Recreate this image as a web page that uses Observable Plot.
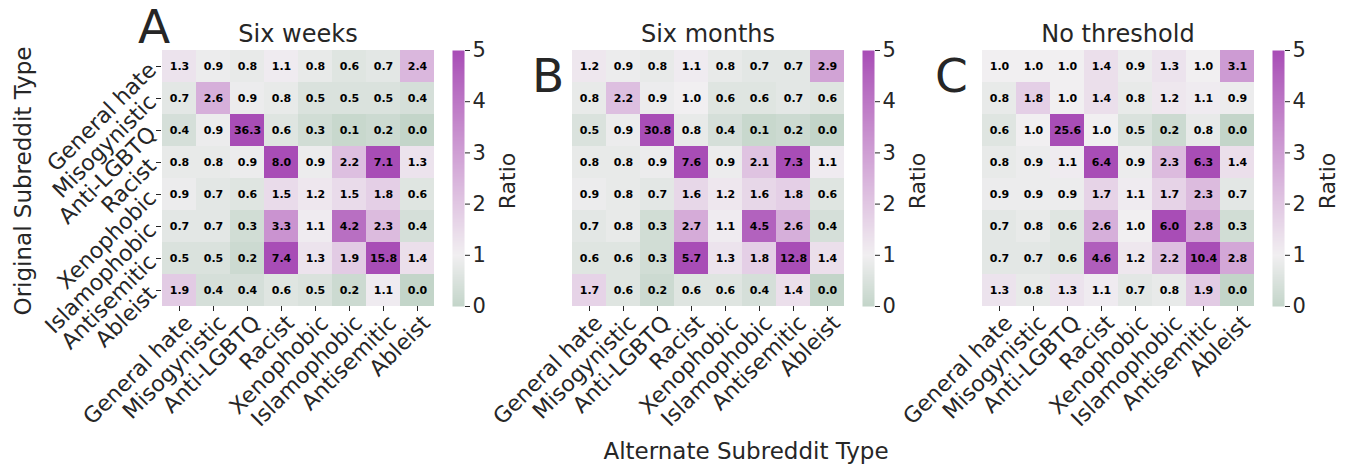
<!DOCTYPE html>
<html>
<head>
<meta charset="utf-8">
<script src="https://cdn.jsdelivr.net/npm/d3@7"></script>
<script src="https://cdn.jsdelivr.net/npm/@observablehq/plot@0.6"></script>
<style>
  html, body { margin: 0; padding: 0; background: white; }
  #chart { position: relative; width: 1350px; height: 469px; overflow: hidden; font-family: "DejaVu Sans", sans-serif; }
  #chart > svg, #chart > div { position: absolute; top: 0; }
</style>
</head>
<body>
<div id="chart"></div>
<script>
const categories = ["General hate","Misogynistic","Anti-LGBTQ","Racist","Xenophobic","Islamophobic","Antisemitic","Ableist"];
const panelTitles = ["Six weeks", "Six months", "No threshold"];
const panelLetters = ["A", "B", "C"];
const sixWeeks = [
  [1.3,0.9,0.8,1.1,0.8,0.6,0.7,2.4],
  [0.7,2.6,0.9,0.8,0.5,0.5,0.5,0.4],
  [0.4,0.9,36.3,0.6,0.3,0.1,0.2,0.0],
  [0.8,0.8,0.9,8.0,0.9,2.2,7.1,1.3],
  [0.9,0.7,0.6,1.5,1.2,1.5,1.8,0.6],
  [0.7,0.7,0.3,3.3,1.1,4.2,2.3,0.4],
  [0.5,0.5,0.2,7.4,1.3,1.9,15.8,1.4],
  [1.9,0.4,0.4,0.6,0.5,0.2,1.1,0.0]];
const sixMonths = [
  [1.2,0.9,0.8,1.1,0.8,0.7,0.7,2.9],
  [0.8,2.2,0.9,1.0,0.6,0.6,0.7,0.6],
  [0.5,0.9,30.8,0.8,0.4,0.1,0.2,0.0],
  [0.8,0.8,0.9,7.6,0.9,2.1,7.3,1.1],
  [0.9,0.8,0.7,1.6,1.2,1.6,1.8,0.6],
  [0.7,0.8,0.3,2.7,1.1,4.5,2.6,0.4],
  [0.6,0.6,0.3,5.7,1.3,1.8,12.8,1.4],
  [1.7,0.6,0.2,0.6,0.6,0.4,1.4,0.0]];
const noThreshold = [
  [1.0,1.0,1.0,1.4,0.9,1.3,1.0,3.1],
  [0.8,1.8,1.0,1.4,0.8,1.2,1.1,0.9],
  [0.6,1.0,25.6,1.0,0.5,0.2,0.8,0.0],
  [0.8,0.9,1.1,6.4,0.9,2.3,6.3,1.4],
  [0.9,0.9,0.9,1.7,1.1,1.7,2.3,0.7],
  [0.7,0.8,0.6,2.6,1.0,6.0,2.8,0.3],
  [0.7,0.7,0.6,4.6,1.2,2.2,10.4,2.8],
  [1.3,0.8,1.3,1.1,0.7,0.8,1.9,0.0]];
const colorTicks = [0, 1, 2, 3, 4, 5];

const matrices = [sixWeeks, sixMonths, noThreshold];
const colorScale = {
  type: "linear",
  domain: [0, 1, 5],
  range: ["#c3d5c9", "#f1eff1", "#a84db6"],
  interpolate: "lab",
  clamp: true
};
const textColor = "#262626";
const baseStyle = {fontFamily: "DejaVu Sans, sans-serif", fontSize: "20px", color: textColor, background: "transparent", overflow: "visible"};

const chart = document.getElementById("chart");
const panelStep = 410;

matrices.forEach((m, i) => {
  const data = [];
  m.forEach((row, r) => row.forEach((v, c) => data.push({row: categories[r], col: categories[c], value: v})));
  const heat = Plot.plot({
    width: 450, height: 469,
    marginLeft: 161, marginRight: 15, marginTop: 49, marginBottom: 163,
    style: baseStyle,
    x: {domain: categories, padding: 0},
    y: {domain: categories, padding: 0},
    color: colorScale,
    marks: [
      Plot.cell(data, {x: "col", y: "row", fill: "value", inset: 0}),
      Plot.text(data, {x: "col", y: "row", text: d => d3.format(".1f")(d.value), fill: "black", fontWeight: "bold", fontSize: 11}),
      Plot.axisX({tickSize: 5, tickFormat: () => "", label: null}),
      Plot.axisX({tickSize: 0, tickRotate: -45, tickPadding: 8, dx: 9, dy: 5, fontSize: 22, label: null}),
      i === 0 ? Plot.axisY({tickRotate: -45, tickSize: 5, tickPadding: 4, fontSize: 22, label: null}) : Plot.axisY({ticks: [], label: null})
    ]
  });
  heat.style.left = (i * panelStep) + "px";
  chart.appendChild(heat);

  const bar = Plot.plot({
    width: 80, height: 469,
    marginLeft: 0, marginRight: 68, marginTop: 50, marginBottom: 163,
    style: baseStyle,
    x: {domain: [0, 1], axis: null},
    y: {domain: [0, 5]},
    color: colorScale,
    marks: [
      Plot.raster({fill: (x, y) => y, x1: 0, x2: 1, y1: 0, y2: 5, width: 1, height: 400}),
      Plot.axisY({anchor: "right", ticks: colorTicks, tickSize: 5, tickPadding: 3, fontSize: 21, label: null, tickFormat: d3.format("d")})
    ]
  });
  bar.style.left = (452 + i * panelStep) + "px";
  chart.appendChild(bar);
});

// Overlay titles and panel letters
const overlay = d3.select(chart).append("svg")
  .attr("width", 1350).attr("height", 469)
  .style("left", "0px").style("pointer-events", "none")
  .style("font-family", "DejaVu Sans, sans-serif").attr("fill", textColor);
panelTitles.forEach((t, i) => {
  overlay.append("text").attr("x", 298 + i * panelStep).attr("y", 42)
    .attr("text-anchor", "middle").attr("font-size", 24).text(t);
  overlay.append("text").attr("transform", `translate(${515 + i * panelStep},181) rotate(-90)`)
    .attr("text-anchor", "middle").attr("font-size", 22).text("Ratio");
});
const letterPos = [[138, 43], [532, 92], [935, 92]];
panelLetters.forEach((l, i) => {
  overlay.append("text").attr("x", letterPos[i][0]).attr("y", letterPos[i][1])
    .attr("font-size", 47).text(l);
});
overlay.append("text").attr("x", 746).attr("y", 459).attr("text-anchor", "middle")
  .attr("font-size", 23).text("Alternate Subreddit Type");
overlay.append("text").attr("transform", "translate(31,181) rotate(-90)").attr("text-anchor", "middle")
  .attr("font-size", 23).text("Original Subreddit Type");
</script>
</body>
</html>
